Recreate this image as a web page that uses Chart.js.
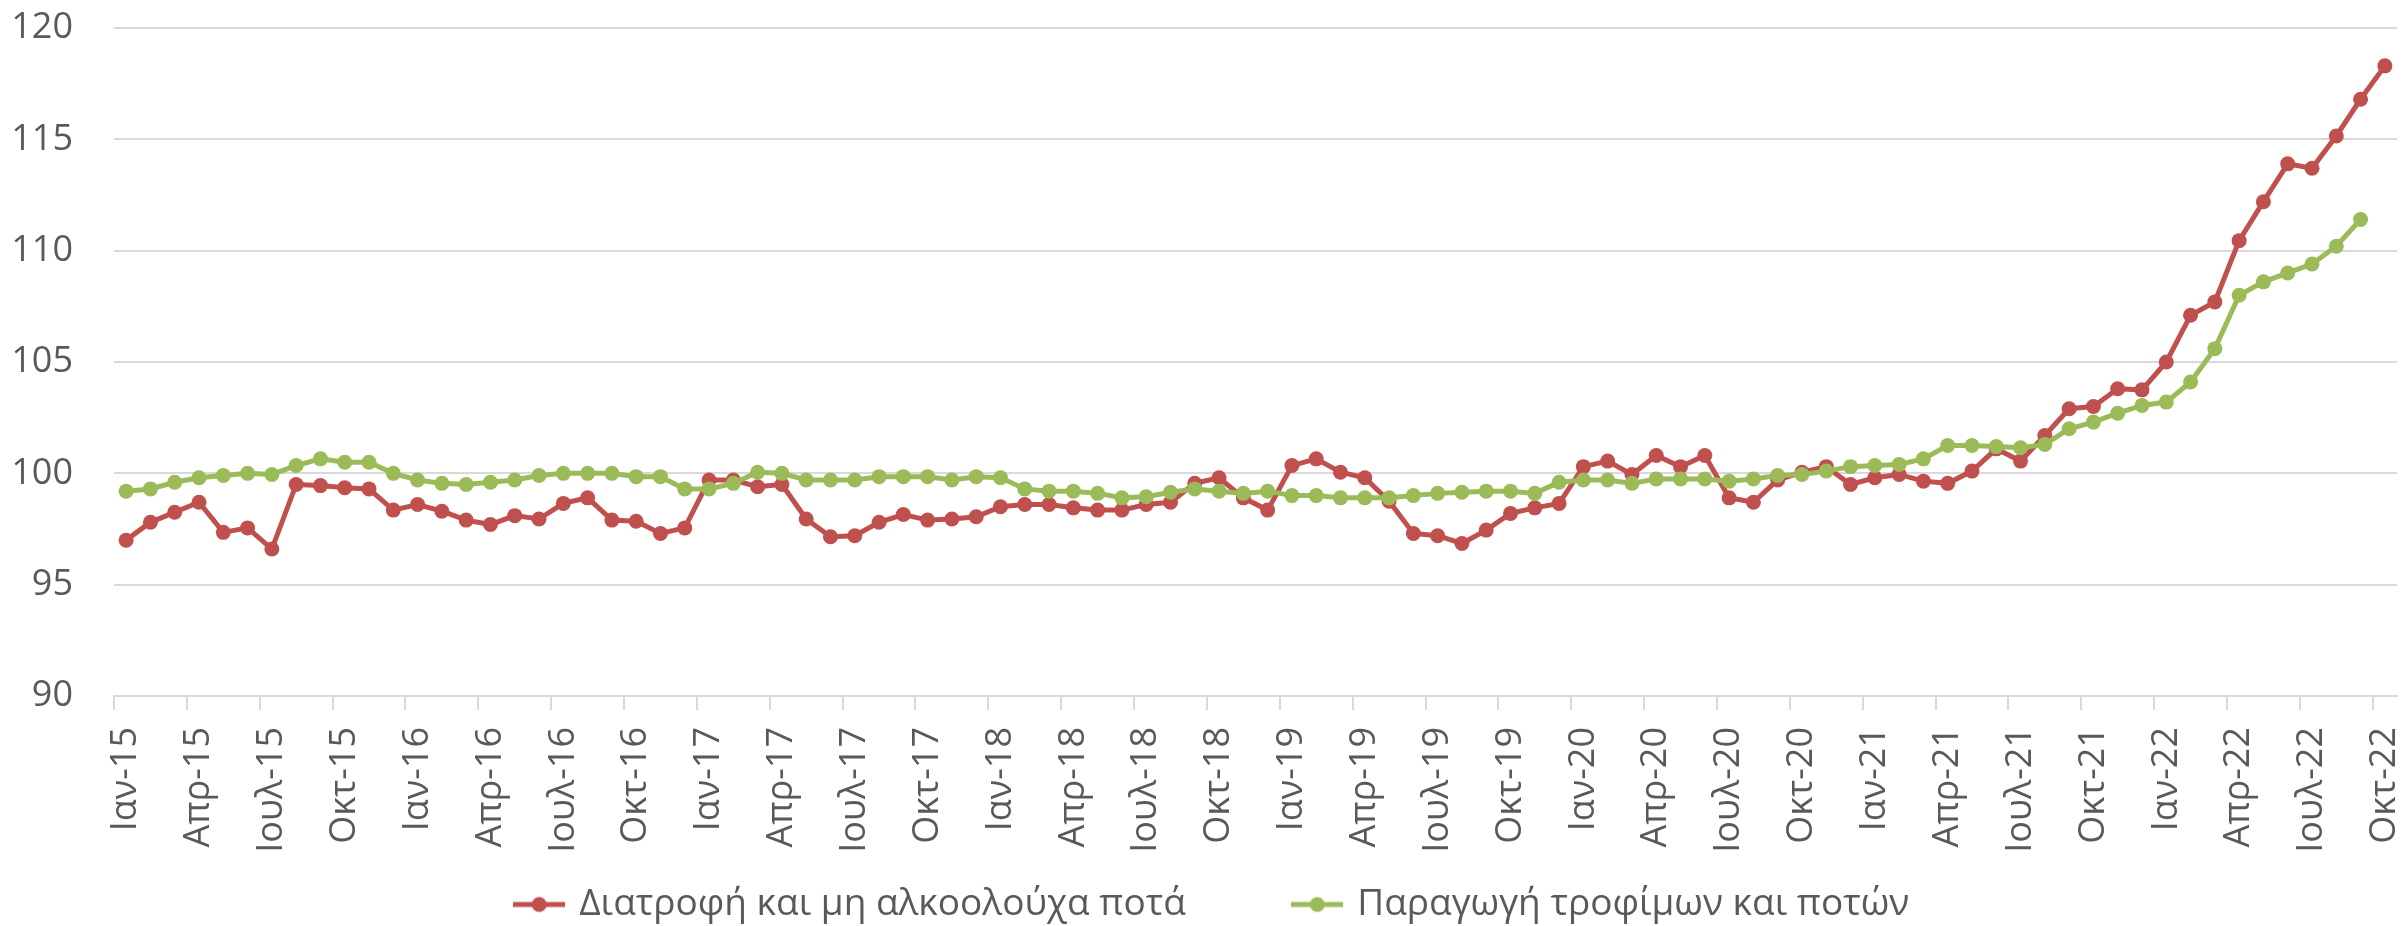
<!DOCTYPE html>
<html>
<head>
<meta charset="utf-8">
<script src="https://cdn.jsdelivr.net/npm/chart.js@4.4.1/dist/chart.umd.min.js"></script>
<style>
    html, body { margin: 0; padding: 0; background: #ffffff; }
    #wrap { width: 2405px; height: 926px; }
</style>
</head>
<body>
<div id="wrap"><canvas id="priceChart" width="2405" height="926"></canvas></div>
<script>
// Monthly categories Jan-15 .. Oct-22
const monthNames = ['Ιαν', 'Φεβ', 'Μαρ', 'Απρ', 'Μαϊ', 'Ιουν', 'Ιουλ', 'Αυγ', 'Σεπ', 'Οκτ', 'Νοε', 'Δεκ'];
const years = ['15', '16', '17', '18', '19', '20', '21', '22'];
const lastMonthIndex = 9; // Οκτ-22

const categories = [];
years.forEach((yy, yi) => {
    monthNames.forEach((m, mi) => {
        if (yi === years.length - 1 && mi > lastMonthIndex) return;
        categories.push(m + '-' + yy);
    });
});

const seriesNames = ['Διατροφή και μη αλκοολούχα ποτά', 'Παραγωγή τροφίμων και ποτών'];

// Διατροφή και μη αλκοολούχα ποτά
const foodCpi = [
    97.0, 97.8, 98.25, 98.7, 97.35, 97.55, 96.6, 99.5, 99.45, 99.35, 99.3, 98.35,
    98.6, 98.3, 97.9, 97.7, 98.1, 97.95, 98.65, 98.9, 97.9, 97.85, 97.3, 97.55,
    99.7, 99.7, 99.4, 99.5, 97.95, 97.15, 97.2, 97.8, 98.15, 97.9, 97.95, 98.05,
    98.5, 98.6, 98.6, 98.45, 98.35, 98.35, 98.6, 98.7, 99.55, 99.8, 98.9, 98.35,
    100.35, 100.65, 100.05, 99.8, 98.75, 97.3, 97.2, 96.85, 97.45, 98.2, 98.45, 98.65,
    100.3, 100.55, 99.95, 100.8, 100.3, 100.8, 98.9, 98.7, 99.7, 100.05, 100.3, 99.5,
    99.8, 99.95, 99.65, 99.55, 100.1, 101.1, 100.55, 101.7, 102.9, 103.0, 103.8, 103.75,
    105.0, 107.1, 107.7, 110.45, 112.2, 113.9, 113.7, 115.15, 116.8, 118.3
];

// Παραγωγή τροφίμων και ποτών (ends Sep-22)
const foodProduction = [
    99.2, 99.3, 99.6, 99.8, 99.9, 100.0, 99.95, 100.35, 100.65, 100.5, 100.5, 100.0,
    99.7, 99.55, 99.5, 99.6, 99.7, 99.9, 100.0, 100.0, 100.0, 99.85, 99.85, 99.3,
    99.3, 99.55, 100.05, 100.0, 99.7, 99.7, 99.7, 99.85, 99.85, 99.85, 99.7, 99.85,
    99.8, 99.3, 99.2, 99.2, 99.1, 98.9, 98.95, 99.15, 99.3, 99.2, 99.1, 99.2,
    99.0, 99.0, 98.9, 98.9, 98.9, 99.0, 99.1, 99.15, 99.2, 99.2, 99.1, 99.6,
    99.7, 99.7, 99.55, 99.75, 99.75, 99.75, 99.65, 99.75, 99.9, 99.95, 100.1, 100.3,
    100.35, 100.4, 100.65, 101.25, 101.25, 101.2, 101.15, 101.3, 102.0, 102.3, 102.7, 103.05,
    103.2, 104.1, 105.6, 108.0, 108.6, 109.0, 109.4, 110.2, 111.4
];

const yTicks = [90, 95, 100, 105, 110, 115, 120];

const RED = '#C0504D';
const GREEN = '#9BBB59';
const TEXT = '#595959';
const GRID = '#D9D9D9';

Chart.defaults.font.family = "'Open Sans', 'Noto Sans', sans-serif";
Chart.defaults.color = TEXT;

// line + dot marker for the legend
function legendMarker(color) {
    const c = document.createElement('canvas');
    c.width = 52;
    c.height = 18;
    const g = c.getContext('2d');
    g.strokeStyle = color;
    g.lineWidth = 5;
    g.beginPath();
    g.moveTo(0, 9);
    g.lineTo(52, 9);
    g.stroke();
    g.fillStyle = color;
    g.beginPath();
    g.arc(26, 9, 7.5, 0, Math.PI * 2);
    g.fill();
    return c;
}

const markers = [legendMarker(RED), legendMarker(GREEN)];

function makeDataset(label, values, color, order) {
    return {
        label: label,
        data: values,
        borderColor: color,
        backgroundColor: color,
        borderWidth: 5,
        pointRadius: 7.5,
        pointBorderWidth: 0,
        pointBackgroundColor: color,
        tension: 0,
        fill: false,
        order: order
    };
}

const config = {
    type: 'line',
    data: {
        labels: categories,
        datasets: [
            makeDataset(seriesNames[0], foodCpi, RED, 1),
            makeDataset(seriesNames[1], foodProduction, GREEN, 0)
        ]
    },
    options: {
        responsive: false,
        animation: false,
        layout: {
            padding: { left: 30, right: 8, top: 28, bottom: -7 }
        },
        plugins: {
            title: { display: false },
            tooltip: { enabled: false },
            legend: {
                position: 'bottom',
                labels: {
                    usePointStyle: true,
                    pointStyleWidth: 43,
                    padding: 110,
                    color: TEXT,
                    font: { size: 37 },
                    generateLabels: (chart) => chart.data.datasets.map((ds, i) => ({
                        text: ds.label,
                        fillStyle: ds.borderColor,
                        strokeStyle: ds.borderColor,
                        lineWidth: 0,
                        pointStyle: markers[i],
                        fontColor: TEXT,
                        hidden: false,
                        datasetIndex: i
                    }))
                }
            }
        },
        scales: {
            x: {
                offset: true,
                grid: {
                    offset: true,
                    drawOnChartArea: false,
                    drawTicks: true,
                    tickLength: 14,
                    lineWidth: 2,
                    color: (ctx) => (ctx.index % 3 === 0 ? GRID : 'rgba(0,0,0,0)')
                },
                border: { display: true, color: GRID, width: 2 },
                ticks: {
                    autoSkip: false,
                    minRotation: 90,
                    maxRotation: 90,
                    padding: 17,
                    color: TEXT,
                    font: { size: 36 },
                    callback: (value, index) => (index % 3 === 0 ? categories[index] : '')
                },
                afterFit: (scale) => {
                    scale.height = 80;
                    scale.paddingLeft = 0;
                    scale.paddingRight = 0;
                    // let the rotated labels run past the box
                    scale._computeLabelArea = () => undefined;
                }
            },
            y: {
                min: yTicks[0],
                max: yTicks[yTicks.length - 1],
                grid: {
                    color: GRID,
                    lineWidth: 2,
                    drawTicks: false
                },
                border: { display: false },
                ticks: {
                    stepSize: 5,
                    padding: 41,
                    color: TEXT,
                    font: { size: 36 }
                },
                afterFit: (scale) => {
                    scale.width = 84;
                    scale.paddingTop = 0;
                    scale.paddingBottom = 0;
                    scale._computeLabelArea = () => undefined;
                }
            }
        }
    }
};

const ctx = document.getElementById('priceChart').getContext('2d');
new Chart(ctx, config);
</script>
</body>
</html>
